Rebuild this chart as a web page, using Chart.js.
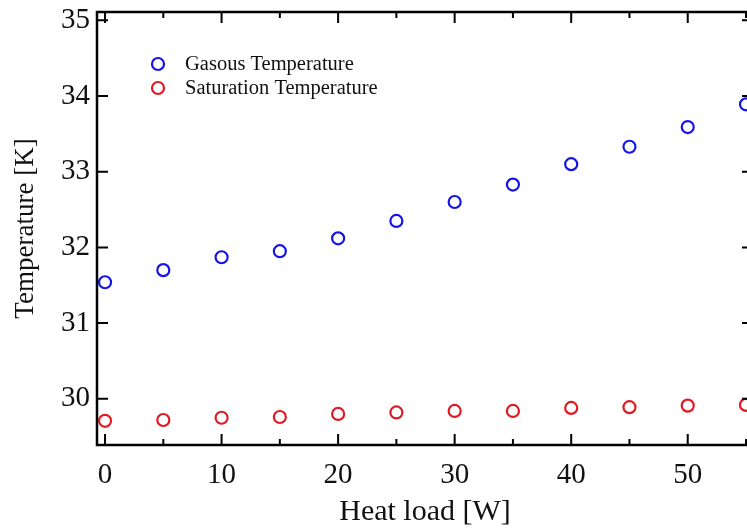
<!DOCTYPE html>
<html>
<head>
<meta charset="utf-8">
<script src="https://cdn.jsdelivr.net/npm/chart.js@4/dist/chart.umd.min.js"></script>
<style>
  html, body { margin: 0; padding: 0; background: #fff; overflow: hidden; }
  #wrap { width: 770px; height: 530px; }
</style>
</head>
<body>
<div id="wrap"><canvas id="temp-chart" width="770" height="530"></canvas></div>
<script>
const heatLoad = [0, 5, 10, 15, 20, 25, 30, 35, 40, 45, 50, 55];
const gasousTemp = [31.54, 31.70, 31.87, 31.95, 32.12, 32.35, 32.60, 32.83, 33.10, 33.33, 33.59, 33.89];
const saturationTemp = [29.71, 29.72, 29.75, 29.76, 29.80, 29.82, 29.84, 29.84, 29.88, 29.89, 29.91, 29.92];
const xMajorTicks = [0, 10, 20, 30, 40, 50];
const xMinorTicks = [5, 15, 25, 35, 45, 55];
const yTicks = [30, 31, 32, 33, 34, 35];

const serif = "'Liberation Serif', 'Times New Roman', serif";
const blue = "rgb(20, 20, 230)";
const red = "rgb(225, 25, 35)";

const toPoints = (ys) => heatLoad.map((x, i) => ({ x: x, y: ys[i] }));

// frame + inward ticks on all four sides
const framePlugin = {
  id: "frame",
  afterDraw(chart) {
    const { ctx, chartArea: a, scales } = chart;
    ctx.save();
    ctx.strokeStyle = "#000";
    ctx.lineWidth = 2.5;
    ctx.strokeRect(a.left, a.top, a.right - a.left, a.bottom - a.top);
    ctx.lineWidth = 2;
    const xTick = (v, len) => {
      const px = scales.x.getPixelForValue(v);
      ctx.beginPath();
      ctx.moveTo(px, a.bottom); ctx.lineTo(px, a.bottom - len);
      ctx.moveTo(px, a.top); ctx.lineTo(px, a.top + len);
      ctx.stroke();
    };
    xMajorTicks.forEach((v) => xTick(v, 11));
    xMinorTicks.forEach((v) => xTick(v, 6));
    yTicks.forEach((v) => {
      const py = scales.y.getPixelForValue(v);
      ctx.beginPath();
      ctx.moveTo(a.left, py); ctx.lineTo(a.left + 11, py);
      ctx.moveTo(a.right, py); ctx.lineTo(a.right - 11, py);
      ctx.stroke();
    });
    ctx.restore();
  },
};

// legend inside the plot area
const insideLegend = {
  id: "insideLegend",
  afterDraw(chart) {
    const { ctx, chartArea: a } = chart;
    ctx.save();
    ctx.font = "20.5px " + serif;
    ctx.textBaseline = "middle";
    chart.data.datasets.forEach((ds, i) => {
      const cy = a.top + 52 + i * 24;
      const cx = a.left + 61;
      ctx.beginPath();
      ctx.arc(cx, cy, 6, 0, Math.PI * 2);
      ctx.strokeStyle = ds.borderColor;
      ctx.lineWidth = 2.2;
      ctx.stroke();
      ctx.fillStyle = "#111";
      ctx.fillText(ds.label, a.left + 88, cy + 1);
    });
    ctx.restore();
  },
};

new Chart(document.getElementById("temp-chart").getContext("2d"), {
  type: "scatter",
  data: {
    datasets: [
      {
        label: "Gasous Temperature",
        data: toPoints(gasousTemp),
        borderColor: blue,
        backgroundColor: "rgba(0,0,0,0)",
        borderWidth: 2.2,
        pointRadius: 6,
      },
      {
        label: "Saturation Temperature",
        data: toPoints(saturationTemp),
        borderColor: red,
        backgroundColor: "rgba(0,0,0,0)",
        borderWidth: 2.2,
        pointRadius: 6,
      },
    ],
  },
  options: {
    responsive: false,
    animation: false,
    layout: { padding: { top: 12, right: 17, left: 0, bottom: 0 } },
    plugins: {
      legend: { display: false },
      tooltip: { enabled: false },
    },
    scales: {
      x: {
        type: "linear",
        min: -0.69,
        max: 55.6,
        grid: { display: false, drawTicks: false },
        border: { display: false },
        afterBuildTicks: (s) => { s.ticks = xMajorTicks.map((v) => ({ value: v })); },
        afterFit: (s) => { s.height = 85; s.paddingLeft = 0; s.paddingRight = 0; },
        ticks: {
          color: "#111",
          font: { family: serif, size: 29 },
          padding: 13,
          maxRotation: 0,
        },
        title: {
          display: true,
          text: "Heat load [W]",
          color: "#111",
          font: { family: serif, size: 30 },
          padding: { top: 0, bottom: 0 },
        },
      },
      y: {
        min: 29.39,
        max: 35.11,
        grid: { display: false, drawTicks: false },
        border: { display: false },
        afterBuildTicks: (s) => { s.ticks = yTicks.map((v) => ({ value: v })); },
        afterFit: (s) => { s.width = 97; s.paddingTop = 0; s.paddingBottom = 0; },
        ticks: {
          color: "#111",
          font: { family: serif, size: 29 },
          padding: 7,
        },
        title: {
          display: true,
          text: "Temperature [K]",
          color: "#111",
          font: { family: serif, size: 27 },
          padding: { top: 10, bottom: 0 },
        },
      },
    },
  },
  plugins: [framePlugin, insideLegend],
});
</script>
</body>
</html>
